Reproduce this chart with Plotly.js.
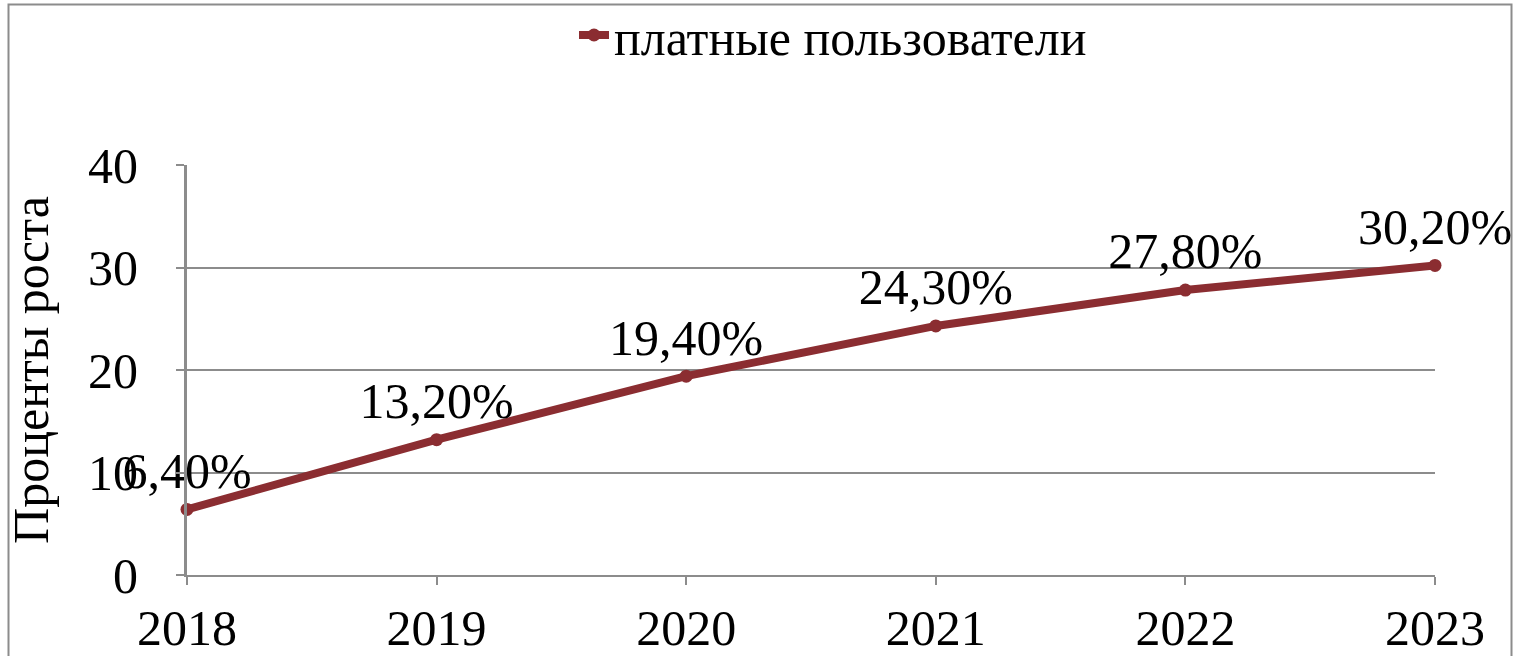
<!DOCTYPE html>
<html>
<head>
<meta charset="utf-8">
<script src="https://cdn.plot.ly/plotly-3.0.1.min.js"></script>
<style>html,body{margin:0;padding:0;background:#fff;}#chart{width:1522px;height:656px;}</style>
</head>
<body>
<div id="chart"></div>
<script>
const years = [2018, 2019, 2020, 2021, 2022, 2023];
const values = [6.4, 13.2, 19.4, 24.3, 27.8, 30.2];
const labels = ["6,40%", "13,20%", "19,40%", "24,30%", "27,80%", "30,20%"];
const seriesName = "платные пользователи";
const yTitle = "Проценты роста";
const yTicks = [0, 10, 20, 30, 40];

const FONT = "Liberation Serif, Times New Roman, serif";
const FS = 50;
const LINE = "#8B2D31";
const GRID = "#8c8c8c";

const trace = {
  x: years, y: values, type: "scatter", mode: "lines+markers+text",
  name: seriesName, text: labels, textposition: "top center",
  textfont: {family: FONT, size: FS, color: "#000"},
  line: {color: LINE, width: 8},
  marker: {color: LINE, size: 13},
  cliponaxis: false, hoverinfo: "skip"
};

const layout = {
  width: 1522, height: 656,
  margin: {l: 187, r: 87, t: 165, b: 81, autoexpand: false},
  paper_bgcolor: "#fff", plot_bgcolor: "#fff",
  font: {family: FONT, size: FS, color: "#000"},
  showlegend: true,
  legend: {orientation: "h", x: 0.5 + 22 / 1248, xanchor: "center", xref: "paper",
           y: 1 - 35 / 656, yanchor: "middle", yref: "container",
           bgcolor: "rgba(0,0,0,0)",
           font: {family: FONT, size: FS, color: "#000"}},
  xaxis: {
    range: [2018, 2023], tickvals: years, ticktext: years.map(String),
    showgrid: false, zeroline: false, automargin: false,
    showline: true, linecolor: GRID, linewidth: 2,
    ticks: "outside", ticklen: 8, tickwidth: 2, tickcolor: GRID,
    tickfont: {family: FONT, size: FS}, ticklabelstandoff: 0
  },
  yaxis: {
    range: [0, 40], tickvals: yTicks, showgrid: true, gridcolor: GRID, gridwidth: 2,
    zeroline: false, showline: true, linecolor: GRID, linewidth: 3, automargin: false,
    ticks: "outside", ticklen: 8, tickwidth: 2, tickcolor: GRID,
    tickfont: {family: FONT, size: FS}, ticklabelstandoff: 28,
    title: {text: yTitle, font: {family: FONT, size: FS}, standoff: 24}
  },
  shapes: [{type: "rect", xref: "paper", yref: "paper",
    x0: (8.5 - 187) / 1248, x1: (1511.5 - 187) / 1248,
    y0: -(81 + 10) / 410, y1: (575 - 4.5) / 410,
    line: {color: GRID, width: 2}, fillcolor: "rgba(0,0,0,0)", layer: "below"}]
};

Plotly.newPlot("chart", [trace], layout, {displayModeBar: false, staticPlot: true});
</script>
</body>
</html>
